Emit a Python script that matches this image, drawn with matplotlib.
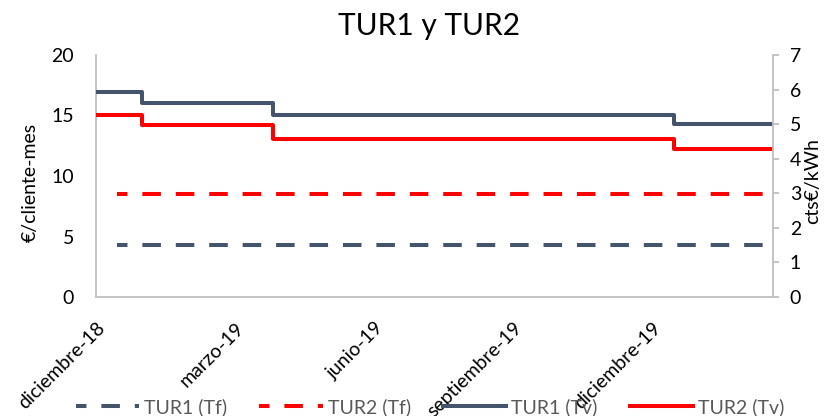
import matplotlib
matplotlib.use("Agg")
import matplotlib.pyplot as plt
import numpy as np

plt.rcParams['font.family'] = ['Lato', 'DejaVu Sans']

# ---- data (x = days since 1 Dec 2018) ----
tv_change_days = [0, 31, 121, 396]
end_day = 464
tur1_tv = [5.93, 5.60, 5.26, 4.99]   # cts€/kWh (right axis)
tur2_tv = [5.26, 4.97, 4.57, 4.28]   # cts€/kWh (right axis)
tf_days = [14, 464]
tur1_tf = [4.30, 4.30]               # €/cliente-mes (left axis)
tur2_tf = [8.49, 8.49]               # €/cliente-mes (left axis)

tick_days = [0, 95, 191, 286, 381]
tick_labels = ['diciembre-18', 'marzo-19', 'junio-19', 'septiembre-19', 'diciembre-19']
left_ticks = [0, 5, 10, 15, 20]
right_ticks = [0, 1, 2, 3, 4, 5, 6, 7]

c_dark = '#44546A'
c_red = '#FF0000'
c_axis = '#BFBFBF'

W, H = 839, 416
fig = plt.figure(figsize=(W / 100, H / 100), dpi=100)
x0, x1, y0, y1 = 96.4, 773, 55, 297
ax = fig.add_axes([x0 / W, 1 - y1 / H, (x1 - x0) / W, (y1 - y0) / H])
ax2 = ax.twinx()

fs = 14
lw = 2.9
dash_style = (2.0, (4.6, 3.7))
l1, = ax.plot(tf_days, tur1_tf, color=c_dark, lw=lw, linestyle=dash_style,
              label='TUR1 (Tf)', dash_capstyle='butt')
l2, = ax.plot(tf_days, tur2_tf, color=c_red, lw=lw, linestyle=dash_style,
              label='TUR2 (Tf)', dash_capstyle='butt')

sx = tv_change_days + [end_day]
l3, = ax2.step(sx, tur1_tv + [tur1_tv[-1]], where='post', color=c_dark, lw=lw,
               label='TUR1 (Tv)')
l4, = ax2.step(sx, tur2_tv + [tur2_tv[-1]], where='post', color=c_red, lw=lw,
               label='TUR2 (Tv)')

ax.set_xlim(0, end_day)
ax.set_ylim(0, 20)
ax2.set_ylim(0, 7)
ax.set_yticks(left_ticks)
ax2.set_yticks(right_ticks)

ax.spines['top'].set_visible(False)
ax2.spines['top'].set_visible(False)
ax.spines['right'].set_visible(False)
ax2.spines['left'].set_visible(False)
ax2.spines['bottom'].set_visible(False)
for s in ('left', 'bottom'):
    ax.spines[s].set_color(c_axis)
    ax.spines[s].set_linewidth(1.3)
ax2.spines['right'].set_color(c_axis)
ax2.spines['right'].set_linewidth(1.3)

ax.tick_params(axis='y', length=0, pad=16, labelsize=fs, labelcolor='black')
ax2.tick_params(axis='y', length=4, width=1.3, color=c_axis, pad=8,
                labelsize=fs, labelcolor='black')

ax.set_xticks(tick_days)
ax.set_xticklabels(tick_labels, rotation=45, ha='right', va='top',
                   rotation_mode='anchor')
ax.tick_params(axis='x', length=0, pad=16, labelsize=fs)

fig.text(428.5 / W, 1 - 35 / H, 'TUR1 y TUR2', ha='center', va='baseline',
         fontsize=21.5, color='black')
fig.text(30 / W, 1 - 182 / H, '€/cliente-mes', rotation=90, ha='center',
         va='center', fontsize=fs)
fig.text(813 / W, 1 - 181 / H, 'cts€/kWh', rotation=90, ha='center',
         va='center', fontsize=fs)

leg = fig.legend(handles=[l1, l2, l3, l4], loc='center', ncol=4,
                 bbox_to_anchor=(430 / W, 1 - 407 / H), frameon=False,
                 fontsize=fs, handlelength=3.25, handletextpad=0.26,
                 columnspacing=1.65, borderpad=0, borderaxespad=0)
for t in leg.get_texts():
    t.set_color('#595959')

fig.savefig('out.png', dpi=100)
